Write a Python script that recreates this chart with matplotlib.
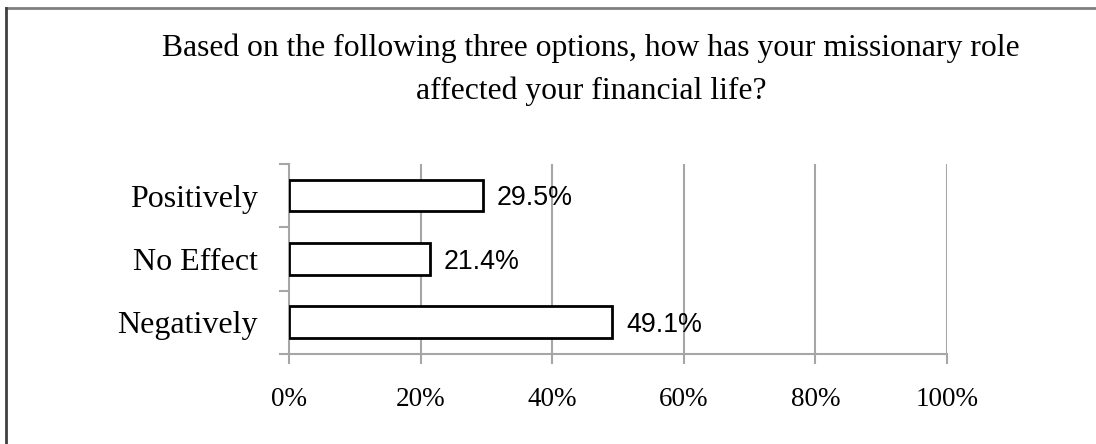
import matplotlib.pyplot as plt
from matplotlib.lines import Line2D

# survey responses, top to bottom
categories = ["Positively", "No Effect", "Negatively"]
shares = [29.5, 21.4, 49.1]
x_ticks = [0, 20, 40, 60, 80, 100]
x_tick_labels = ["0%", "20%", "40%", "60%", "80%", "100%"]

title = ("Based on the following three options, how has your missionary role\n"
         "affected your financial life?")

W, H = 1096, 444
fig = plt.figure(figsize=(W / 100, H / 100), dpi=100)
fig.patch.set_facecolor("white")

# chart frame (top and left edges only)
fig.add_artist(Line2D([6 / W, 1], [1 - 8 / H, 1 - 8 / H], color="#808080", lw=2,
                      transform=fig.transFigure))
fig.add_artist(Line2D([6 / W, 6 / W], [0, 1 - 8 / H], color="#404040", lw=2,
                      transform=fig.transFigure))

fig.text(591 / W, 1 - 70 / H, title, ha="center", va="center",
         family="Liberation Serif", fontsize=22.8, linespacing=1.6)

ax = fig.add_axes([289 / W, 90 / H, 658 / W, 190 / H])
grid_col = "#a6a6a6"

ypos = list(range(len(categories)))[::-1]
ax.barh(ypos, shares, height=0.5, color="white", edgecolor="black",
        linewidth=2, zorder=3)
for y, v in zip(ypos, shares):
    ax.text(v + 2.1, y - 0.04, f"{v:.1f}%", ha="left", va="center",
            family="Liberation Sans", fontsize=19.3, zorder=4)

ax.set_xlim(0, 100)
ax.set_ylim(-0.5, len(categories) - 0.5)
ax.set_xticks(x_ticks)
ax.set_xticklabels(x_tick_labels, family="Liberation Serif", fontsize=19.5)
ax.set_yticks(ypos)
ax.set_yticklabels(categories, family="Liberation Serif", fontsize=23)
ax.set_yticks([-0.5, 0.5, 1.5, 2.5], minor=True)

ax.tick_params(axis="x", which="major", length=7, width=1.5, color=grid_col,
               pad=17)
ax.tick_params(axis="y", which="major", length=0, pad=22.5)
ax.tick_params(axis="y", which="minor", length=7, width=1.5, color=grid_col)

for x in x_ticks[1:]:
    ax.axvline(x, color=grid_col, lw=1.5, zorder=1)

for s in ["top", "right"]:
    ax.spines[s].set_visible(False)
for s in ["left", "bottom"]:
    ax.spines[s].set_color(grid_col)
    ax.spines[s].set_linewidth(1.5)

fig.savefig("out.png", dpi=100)
